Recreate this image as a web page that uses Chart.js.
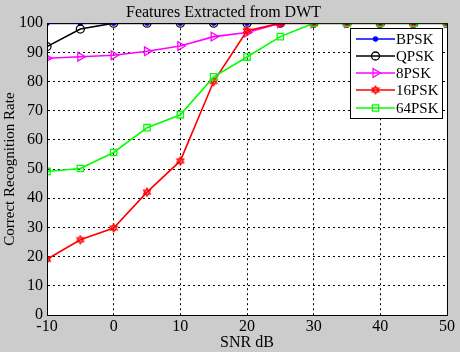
<!DOCTYPE html>
<html>
<head>
<meta charset="utf-8">
<script src="https://cdn.jsdelivr.net/npm/chart.js@4.4.1/dist/chart.umd.min.js"></script>
<style>
  html, body { margin: 0; padding: 0; background: #cccccc; }
  #wrap { width: 460px; height: 352px; }
</style>
</head>
<body>
<div id="wrap"><canvas id="myChart" width="460" height="352"></canvas></div>
<script>
// SNR points (dB)
let snr = [-10, -5, 0, 5, 10, 15, 20, 25, 30, 35, 40, 45, 50];
let seriesNames = ["BPSK", "QPSK", "8PSK", "16PSK", "64PSK"];
let bpsk = [100, 100, 100, 100, 100, 100, 100, 100, 100, 100, 100, 100, 100];
let qpsk = [92, 98, 100, 100, 100, 100, 100, 100, 100, 100, 100, 100, 100];
let psk8 = [88, 88.5, 89, 90.4, 92.2, 95.4, 96.8, 100, 100, 100, 100, 100, 100];
let psk16 = [19.1, 25.8, 29.8, 42.1, 52.8, 80, 97.4, 100, 100, 100, 100, 100, 100];
let psk64 = [49.2, 50.2, 55.7, 64.2, 68.6, 81.6, 88.4, 95.4, 100, 100, 100, 100, 100];
let xTicks = [-10, 0, 10, 20, 30, 40, 50];

let serif = "'Liberation Serif', 'Times New Roman', serif";

// six-pointed star marker for 16PSK
makeHexagram = (color) => {
  let c = document.createElement("canvas");
  c.width = 10; c.height = 10;
  let g = c.getContext("2d");
  g.strokeStyle = color;
  g.lineWidth = 1.2;
  let r = 4, cx = 5, cy = 5;
  [-90, 90].forEach((start) => {
    g.beginPath();
    for (let k = 0; k < 3; k++) {
      let a = (start + k * 120) * Math.PI / 180;
      let px = cx + r * Math.cos(a), py = cy + r * Math.sin(a);
      if (k == 0) g.moveTo(px, py); else g.lineTo(px, py);
    }
    g.closePath();
    g.stroke();
  });
  return c;
};
let hexStar = makeHexagram("#ff0000");

let pts = (arr) => arr.map((v, i) => ({ x: snr[i], y: v }));

let styles = [
  { color: "#0000ff", pointStyle: "circle", radius: 2, fill: "#0000ff", rotation: 0 },
  { color: "#000000", pointStyle: "circle", radius: 4, fill: "rgba(0,0,0,0)", rotation: 0 },
  { color: "#ff00ff", pointStyle: "triangle", radius: 5, fill: "rgba(0,0,0,0)", rotation: 90 },
  { color: "#ff0000", pointStyle: hexStar, radius: 4, fill: "rgba(0,0,0,0)", rotation: 0 },
  { color: "#00ff00", pointStyle: "rect", radius: 4.5, fill: "rgba(0,0,0,0)", rotation: 0 }
];
let allData = [bpsk, qpsk, psk8, psk16, psk64];

let datasets = allData.map((d, i) => ({
  label: seriesNames[i],
  data: pts(d),
  borderColor: styles[i].color,
  backgroundColor: styles[i].fill,
  borderWidth: 1.6,
  pointStyle: styles[i].pointStyle,
  pointRadius: styles[i].radius,
  pointRotation: styles[i].rotation,
  pointBorderColor: styles[i].color,
  pointBackgroundColor: styles[i].fill,
  pointBorderWidth: 1.3,
  tension: 0,
  order: 5 - i
}));

// box around the axes + legend inside the plot
let boxAndLegend = {
  id: "boxAndLegend",
  afterDraw: (chart) => {
    let ctx = chart.ctx;
    let a = chart.chartArea;
    ctx.save();
    ctx.strokeStyle = "#000";
    ctx.lineWidth = 1;
    ctx.strokeRect(a.left + 0.5, a.top + 0.5, a.right - a.left, a.bottom - a.top);

    // legend
    let lx = 350, ly = 28, lw = 92, lh = 90;
    ctx.fillStyle = "#fff";
    ctx.fillRect(lx, ly, lw, lh);
    ctx.strokeRect(lx + 0.5, ly + 0.5, lw, lh);
    let rows = [39, 56, 73, 90, 108];
    ctx.font = "15px " + serif;
    ctx.textBaseline = "middle";
    seriesNames.forEach((name, i) => {
      let s = styles[i];
      let y = rows[i];
      ctx.strokeStyle = s.color;
      ctx.lineWidth = 1.6;
      ctx.beginPath();
      ctx.moveTo(356, y);
      ctx.lineTo(395, y);
      ctx.stroke();
      ctx.lineWidth = 1.3;
      ctx.fillStyle = s.fill;
      Chart.helpers.drawPoint(ctx, {
        pointStyle: s.pointStyle,
        radius: s.radius,
        rotation: s.rotation,
        borderWidth: 1.3
      }, 375.5, y);
      ctx.fillStyle = "#000";
      ctx.textAlign = "left";
      ctx.fillText(name, 396, y + 1);
    });
    ctx.restore();
  }
};

let plotBg = {
  id: "plotBg",
  beforeDraw: (chart) => {
    let ctx = chart.ctx;
    let a = chart.chartArea;
    ctx.save();
    ctx.fillStyle = "#cccccc";
    ctx.fillRect(0, 0, chart.width, chart.height);
    ctx.fillStyle = "#ffffff";
    ctx.fillRect(a.left, a.top, a.right - a.left, a.bottom - a.top);
    ctx.restore();
  }
};

let ctx = document.getElementById("myChart").getContext("2d");
let myChart = new Chart(ctx, {
  type: "line",
  data: { datasets: datasets },
  plugins: [plotBg, boxAndLegend],
  options: {
    responsive: false,
    animation: false,
    layout: { padding: { left: 0, right: 13, top: 0, bottom: 0 } },
    plugins: {
      legend: { display: false },
      tooltip: { enabled: false },
      title: {
        display: true,
        text: "Features Extracted from DWT",
        color: "#000",
        font: { family: serif, size: 16, weight: "normal" },
        padding: { top: 3, bottom: 1 }
      }
    },
    scales: {
      x: {
        type: "linear",
        min: -10,
        max: 50,
        afterBuildTicks: (scale) => { scale.ticks = xTicks.map((v) => ({ value: v })); },
        afterFit: (scale) => { scale.height = 37; },
        ticks: { color: "#000", font: { family: serif, size: 16 }, padding: 2, maxRotation: 0 },
        grid: { color: "#000", lineWidth: 1, drawTicks: false },
        border: { color: "#000", width: 1, dash: [2, 3] },
        title: {
          display: true,
          text: "SNR dB",
          color: "#000",
          font: { family: serif, size: 16 },
          padding: { top: -3, bottom: 0 }
        }
      },
      y: {
        min: 0,
        max: 100,
        afterFit: (scale) => { scale.width = 47; },
        ticks: { stepSize: 10, color: "#000", font: { family: serif, size: 16 }, padding: 4 },
        grid: { color: "#000", lineWidth: 1, drawTicks: false },
        border: { color: "#000", width: 1, dash: [2, 3] },
        title: {
          display: true,
          text: "Correct Recognition Rate",
          color: "#000",
          font: { family: serif, size: 15 },
          padding: { top: 1, bottom: 0 }
        }
      }
    }
  }
});
</script>
</body>
</html>
